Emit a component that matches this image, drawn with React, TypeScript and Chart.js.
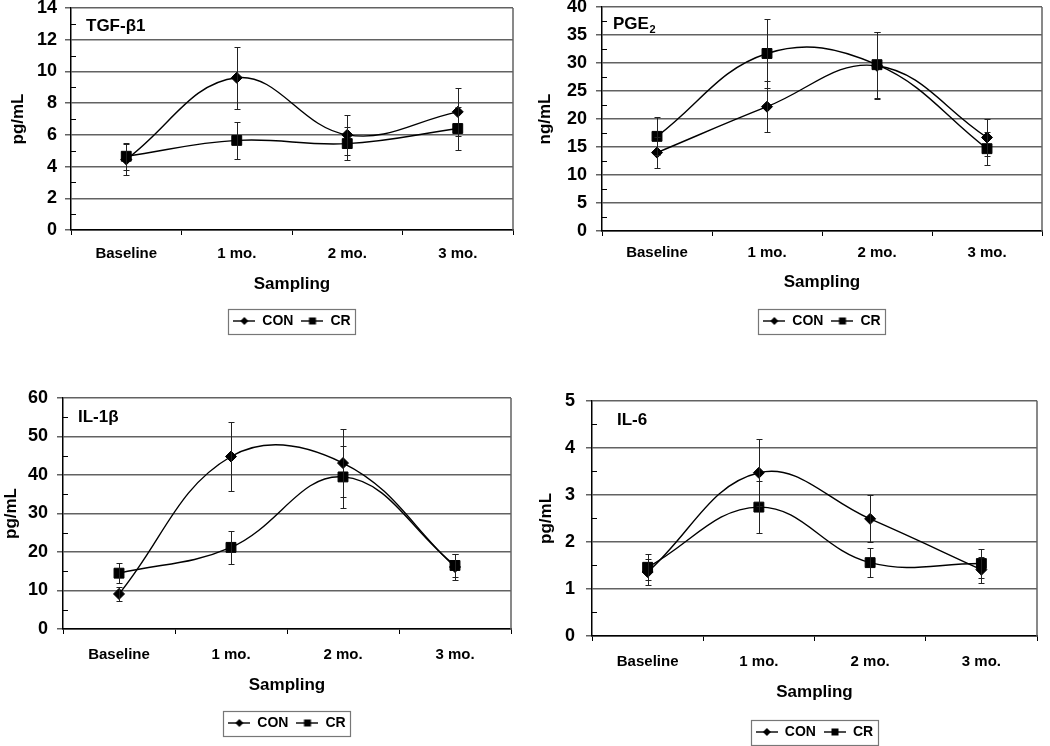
import React, { useEffect, useRef } from 'react';
import { Chart, registerables } from 'chart.js';

Chart.register(...registerables);

// ---------- data ----------
const categories = ['Baseline', '1 mo.', '2 mo.', '3 mo.'];
const seriesNames = ['CON', 'CR'];

// TGF-β1 (pg/mL)
const tgfCon = [4.45, 9.6, 6.0, 7.45];
const tgfConErr = [0.95, 1.95, 1.25, 1.5];
const tgfCr = [4.65, 5.65, 5.45, 6.4];
const tgfCrErr = [0.85, 1.15, 1.05, 1.35];

// PGE2 (ng/mL)
const pgeCon = [14.0, 22.2, 29.5, 16.7];
const pgeConErr = [2.8, 4.5, 6.0, 3.3];
const pgeCr = [16.9, 31.7, 29.7, 14.7];
const pgeCrErr = [3.4, 6.2, 5.9, 2.9];

// IL-1β (pg/mL)
const il1Con = [9.1, 44.8, 43.1, 16.1];
const il1ConErr = [1.8, 9.0, 8.8, 3.3];
const il1Cr = [14.5, 21.2, 39.5, 16.5];
const il1CrErr = [2.6, 4.2, 8.0, 3.0];

// IL-6 (pg/mL)
const il6Con = [1.36, 3.47, 2.49, 1.41];
const il6ConErr = [0.28, 0.71, 0.5, 0.28];
const il6Cr = [1.46, 2.74, 1.56, 1.54];
const il6CrErr = [0.28, 0.55, 0.31, 0.31];

// y-axis ranges: [max, major step, minor step]
const tgfAxis = [14, 2, 1];
const pgeAxis = [40, 5, 2.5];
const il1Axis = [60, 10, 5];
const il6Axis = [5, 1, 0.5];

// ---------- layout (page positions, not data) ----------
const FONT = "'Liberation Sans', Arial, Helvetica, sans-serif";

const panelDefs = [
  {
    title: 'TGF-β1', sub: '', yTitle: 'pg/mL',
    con: tgfCon, conErr: tgfConErr, cr: tgfCr, crErr: tgfCrErr, axis: tgfAxis,
    left: 0, top: -12, width: 525, height: 352, yWidth: 71, padR: 12, padTop: 20, xHeight: 76,
    yTickPad: 8, yTitlePad: 8, xTickPad: 10, xTitlePad: 11, titleDx: 15, titleDy: 23,
  },
  {
    title: 'PGE', sub: '2', yTitle: 'ng/mL',
    con: pgeCon, conErr: pgeConErr, cr: pgeCr, crErr: pgeCrErr, axis: pgeAxis,
    left: 525, top: -13, width: 525, height: 353, yWidth: 77, padR: 3, padTop: 20, xHeight: 75,
    yTickPad: 9, yTitlePad: 10, xTickPad: 8, xTitlePad: 13, titleDx: 11, titleDy: 22,
  },
  {
    title: 'IL-1β', sub: '', yTitle: 'pg/mL',
    con: il1Con, conErr: il1ConErr, cr: il1Cr, crErr: il1CrErr, axis: il1Axis,
    left: 0, top: 378, width: 525, height: 364, yWidth: 63, padR: 14, padTop: 20, xHeight: 79,
    yTickPad: 9, yTitlePad: 1, xTickPad: 12, xTitlePad: 12, titleDx: 15, titleDy: 24,
  },
  {
    title: 'IL-6', sub: '', yTitle: 'pg/mL',
    con: il6Con, conErr: il6ConErr, cr: il6Cr, crErr: il6CrErr, axis: il6Axis,
    left: 525, top: 379, width: 525, height: 372, yWidth: 67, padR: 13, padTop: 20, xHeight: 81,
    yTickPad: 11, yTitlePad: 11, xTickPad: 12, xTitlePad: 14, titleDx: 25, titleDy: 24,
  },
];

const GRID = '#626262';

function makeIcon(kind: 'diamond' | 'square'): HTMLCanvasElement {
  const c = document.createElement('canvas');
  c.width = 22;
  c.height = 12;
  const ctx = c.getContext('2d')!;
  ctx.strokeStyle = '#000';
  ctx.lineWidth = 1.4;
  ctx.beginPath();
  ctx.moveTo(0, 6);
  ctx.lineTo(22, 6);
  ctx.stroke();
  ctx.fillStyle = '#000';
  if (kind === 'diamond') {
    ctx.beginPath();
    ctx.moveTo(11, 2);
    ctx.lineTo(15, 6);
    ctx.lineTo(11, 10);
    ctx.lineTo(7, 6);
    ctx.closePath();
    ctx.fill();
  } else {
    ctx.fillRect(7.5, 2.5, 7, 7);
  }
  return c;
}

const errorBarsPlugin = {
  id: 'errorBars',
  afterDatasetsDraw(chart: any) {
    const ctx = chart.ctx;
    const ys = chart.scales.y;
    chart.data.datasets.forEach((ds: any, i: number) => {
      const meta = chart.getDatasetMeta(i);
      ctx.save();
      ctx.strokeStyle = '#222';
      ctx.lineWidth = 1;
      meta.data.forEach((pt: any, j: number) => {
        const v = ds.data[j];
        const e = ds.errors[j];
        const x = Math.round(pt.x) + 0.5;
        const y1 = Math.round(ys.getPixelForValue(v + e)) + 0.5;
        const y2 = Math.round(ys.getPixelForValue(v - e)) + 0.5;
        ctx.beginPath();
        ctx.moveTo(x, y1);
        ctx.lineTo(x, y2);
        ctx.moveTo(x - 3, y1);
        ctx.lineTo(x + 3, y1);
        ctx.moveTo(x - 3, y2);
        ctx.lineTo(x + 3, y2);
        ctx.stroke();
      });
      ctx.restore();
    });
  },
};

const framePlugin = {
  id: 'frame',
  beforeDatasetsDraw(chart: any, _args: any, opts: any) {
    const { ctx, chartArea } = chart;
    const ys = chart.scales.y;
    ctx.save();
    ctx.strokeStyle = GRID;
    ctx.lineWidth = 1.5;
    ctx.beginPath();
    ctx.moveTo(chartArea.right, chartArea.top);
    ctx.lineTo(chartArea.right, chartArea.bottom);
    ctx.stroke();
    // inside minor ticks
    ctx.strokeStyle = '#000';
    ctx.lineWidth = 1;
    const [max, major, minor] = opts.axis;
    for (let v = minor; v < max; v += minor) {
      const r = v / major;
      if (Math.abs(r - Math.round(r)) < 1e-6) continue;
      const y = Math.round(ys.getPixelForValue(v)) + 0.5;
      ctx.beginPath();
      ctx.moveTo(chartArea.left, y);
      ctx.lineTo(chartArea.left + 5, y);
      ctx.stroke();
    }
    ctx.restore();
  },
};

const panelTitlePlugin = {
  id: 'panelTitle',
  afterDraw(chart: any, _args: any, opts: any) {
    const { ctx, chartArea } = chart;
    ctx.save();
    ctx.fillStyle = '#000';
    ctx.textAlign = 'left';
    ctx.textBaseline = 'alphabetic';
    ctx.font = `bold 17px ${FONT}`;
    const x = chartArea.left + opts.dx;
    const y = chartArea.top + opts.dy;
    ctx.fillText(opts.text, x, y);
    if (opts.sub) {
      const w = ctx.measureText(opts.text).width;
      ctx.font = `bold 11px ${FONT}`;
      ctx.fillText(opts.sub, x + w + 0.5, y + 4);
    }
    ctx.restore();
  },
};

const legendBoxPlugin = {
  id: 'legendBox',
  afterDraw(chart: any) {
    const lg = chart.legend;
    if (!lg || !lg.legendHitBoxes || !lg.legendHitBoxes.length) return;
    const hb = lg.legendHitBoxes;
    const l = Math.min(...hb.map((h: any) => h.left)) - 5;
    const r = Math.max(...hb.map((h: any) => h.left + h.width)) + 5;
    const t = hb[0].top - 5;
    const b = hb[0].top + hb[0].height + 6;
    const ctx = chart.ctx;
    ctx.save();
    ctx.strokeStyle = '#777';
    ctx.lineWidth = 1.2;
    ctx.strokeRect(Math.round(l) + 0.5, Math.round(t) + 0.5, Math.round(r - l), Math.round(b - t));
    ctx.restore();
  },
};

function buildConfig(p: any, icons: HTMLCanvasElement[]): any {
  const [max, major] = p.axis;
  const common = {
    borderColor: '#000',
    borderWidth: 1.4,
    pointBackgroundColor: '#000',
    pointBorderColor: '#000',
    pointBorderWidth: 1,
    tension: 0.4,
    fill: false,
  };
  return {
    type: 'line',
    data: {
      labels: categories,
      datasets: [
        { ...common, label: seriesNames[0], data: p.con, errors: p.conErr, pointStyle: 'rectRot', pointRadius: 5.5 },
        { ...common, label: seriesNames[1], data: p.cr, errors: p.crErr, pointStyle: 'rect', pointRadius: 7 },
      ],
    },
    options: {
      responsive: false,
      animation: false,
      events: [],
      layout: { padding: { left: 0, top: p.padTop, right: p.padR, bottom: 2 } },
      scales: {
        x: {
          type: 'category',
          offset: true,
          grid: { offset: true, drawOnChartArea: false, drawTicks: true, tickLength: 5, color: '#000', lineWidth: 1 },
          border: { display: true, color: '#000', width: 1.5 },
          ticks: { font: { family: FONT, size: 15, weight: 'bold' }, color: '#000', padding: p.xTickPad, maxRotation: 0, autoSkip: false },
          title: { display: true, text: 'Sampling', color: '#000', font: { family: FONT, size: 17, weight: 'bold' }, padding: { top: 0, bottom: p.xTitlePad } },
          afterFit: (s: any) => { s.height = p.xHeight; },
        },
        y: {
          min: 0,
          max,
          ticks: { stepSize: major, font: { family: FONT, size: 18, weight: 'bold' }, color: '#000', padding: p.yTickPad },
          grid: { color: GRID, lineWidth: 1.5, tickLength: 6, tickColor: GRID, drawTicks: true },
          border: { display: true, color: '#000', width: 1.5 },
          title: { display: true, text: p.yTitle, color: '#000', font: { family: FONT, size: 17, weight: 'bold' }, padding: { top: p.yTitlePad, bottom: 0 } },
          afterFit: (s: any) => { s.width = p.yWidth; },
        },
      },
      plugins: {
        tooltip: { enabled: false },
        title: { display: false },
        legend: {
          display: true,
          position: 'bottom',
          fullSize: false,
          align: 'center',
          labels: {
            usePointStyle: true,
            pointStyleWidth: 22,
            padding: 8,
            color: '#000',
            font: { family: FONT, size: 14, weight: 'bold' },
            generateLabels: (chart: any) =>
              chart.data.datasets.map((ds: any, i: number) => ({
                text: ds.label,
                pointStyle: icons[i],
                datasetIndex: i,
                fillStyle: '#000',
                strokeStyle: '#000',
                fontColor: '#000',
                lineWidth: 0,
                hidden: false,
              })),
          },
        },
        frame: { axis: p.axis },
        panelTitle: { text: p.title, sub: p.sub, dx: p.titleDx, dy: p.titleDy },
      },
    },
    plugins: [framePlugin, errorBarsPlugin, panelTitlePlugin, legendBoxPlugin],
  };
}

function Panel({ p }: { p: any }) {
  const ref = useRef<HTMLCanvasElement>(null);
  useEffect(() => {
    const icons = [makeIcon('diamond'), makeIcon('square')];
    const chart = new Chart(ref.current!, buildConfig(p, icons));
    return () => chart.destroy();
  }, [p]);
  return (
    <canvas
      ref={ref}
      width={p.width}
      height={p.height}
      style={{ position: 'absolute', left: p.left, top: p.top, width: p.width, height: p.height }}
    />
  );
}

export default function App() {
  return (
    <div
      style={{
        position: 'fixed',
        left: 0,
        top: 0,
        width: 1050,
        height: 746,
        overflow: 'hidden',
        background: '#fff',
      }}
    >
      {panelDefs.map((p, i) => (
        <Panel key={i} p={p} />
      ))}
    </div>
  );
}
